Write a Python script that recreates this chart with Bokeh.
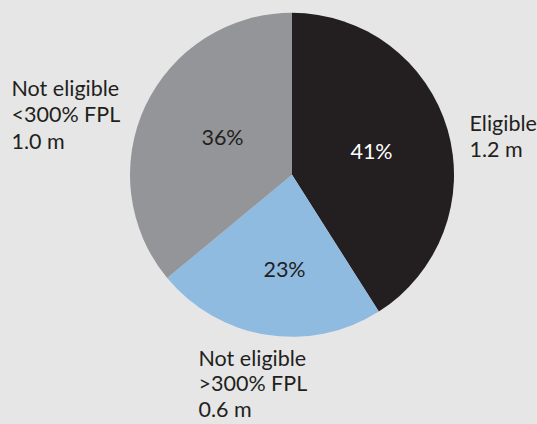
import math
from bokeh.plotting import figure
from bokeh.models import Range1d, ColumnDataSource
from bokeh.core.properties import value
from bokeh.embed import file_html
from bokeh.resources import INLINE

# ---- data ----
categories = ["Eligible", "Not eligible\n>300% FPL", "Not eligible\n<300% FPL"]
amounts = ["1.2 m", "0.6 m", "1.0 m"]
shares = [41, 23, 36]

# ---- style / layout ----
W, H = 537, 424
BG = "#e6e6e6"
colors = ["#231f20", "#8fbbe1", "#939598"]
pct_colors = ["#ffffff", "#231f20", "#231f20"]
FONT = "Lato"
FS = "21.5px"
cx, cy, R = 291.5, 174.3, 162          # page pixels
pct_pos = [(371, 150), (284, 268), (222, 136)]       # centre x, middle y (page px)
lab_pos = [(469, 122.5), (198, 357), (11, 87.5)]      # left x, first line middle (page px)
line_steps = [26.3, 25.5, 26.3]

def Y(py):
    return H - py

p = figure(width=W, height=H, output_backend="svg", toolbar_location=None,
           x_range=Range1d(0, W), y_range=Range1d(0, H), min_border=0,
           background_fill_color=BG, border_fill_color=BG, outline_line_color=None)
p.axis.visible = False
p.grid.visible = False

total = sum(shares)
starts, ends = [], []
a = math.pi / 2
for s in shares:
    da = 2 * math.pi * s / total
    starts.append(a - da)
    ends.append(a)
    a -= da

src = ColumnDataSource(dict(start=starts, end=ends, color=colors))
p.wedge(x=cx, y=Y(cy), radius=R, radius_units="screen", start_angle="start",
        end_angle="end", fill_color="color", line_color=None, source=src)

# percentage labels
p.text(x=[q[0] for q in pct_pos], y=[Y(q[1]) for q in pct_pos],
       text=[f"{s}%" for s in shares], text_color=pct_colors,
       text_font=value(FONT), text_font_size=FS, text_align="center",
       text_baseline="middle")

# outside labels
xs, ys, ts = [], [], []
for (lx, ly), step, cat, amt in zip(lab_pos, line_steps, categories, amounts):
    lines = cat.split("\n") + [amt]
    for i, ln in enumerate(lines):
        xs.append(lx)
        ys.append(Y(ly + i * step))
        ts.append(ln)
p.text(x=xs, y=ys, text=ts, text_color="#231f20", text_font=value(FONT),
       text_font_size=FS, text_align="left", text_baseline="middle")

html = file_html(p, INLINE)
html = html.replace("<head>", "<head><style>html,body{margin:0 !important;padding:0;background:%s;overflow:hidden;}</style>" % BG, 1)
open("out.html", "w").write(html)
